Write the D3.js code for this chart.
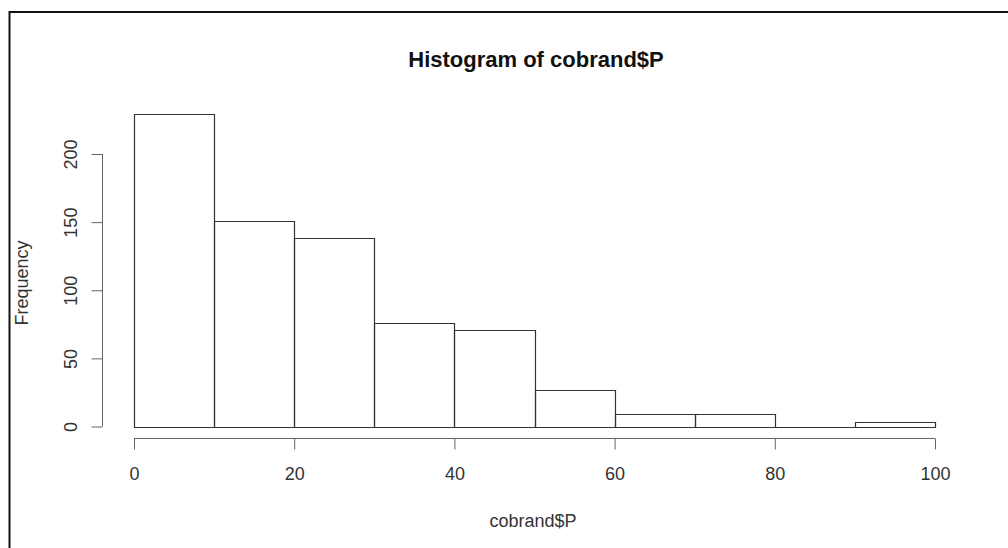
<!DOCTYPE html>
<html>
<head>
<meta charset="utf-8">
<script src="https://cdn.jsdelivr.net/npm/d3@7"></script>
<style>
  body { margin: 0; background: #fff; }
  text { font-family: "Liberation Sans", Arial, sans-serif; }
</style>
</head>
<body>
<div id="chart"></div>
<script>
// histogram bins (left edges) and counts
const binStarts = [0, 10, 20, 30, 40, 50, 60, 70, 80, 90];
const binWidth = 10;
const counts = [229, 151, 138, 76, 71, 27, 9, 9, 0, 3];
const xTicks = [0, 20, 40, 60, 80, 100];
const yTicks = [0, 50, 100, 150, 200];

const W = 1008, H = 548;

const svg = d3.select('#chart')
  .append('svg')
    .attr('width', W)
    .attr('height', H);

// frame (top + left edge of the screenshot)
svg.append('path')
  .attr('d', `M9.5,${H} L9.5,12 L${W},12`)
  .attr('fill', 'none')
  .attr('stroke', '#111')
  .attr('stroke-width', 2);

const x = d3.scaleLinear().domain([0, 100]).range([134, 935]);
const y = d3.scaleLinear().domain([0, 200]).range([426.5, 154]);

// bars as closed paths so an empty bin still shows as a line
svg.append('g')
  .selectAll('path')
  .data(counts)
  .join('path')
    .attr('d', (d, i) => {
      const x0 = Math.round(x(binStarts[i])) + 0.5;
      const x1 = Math.round(x(binStarts[i] + binWidth)) + 0.5;
      const y0 = Math.round(y(0)) + 0.5;
      const y1 = Math.round(y(d)) + 0.5;
      return `M${x0},${y0}V${y1}H${x1}V${y0}Z`;
    })
    .attr('fill', 'none')
    .attr('stroke', '#333')
    .attr('stroke-width', 1.2);

// y axis
svg.append('g')
  .attr('transform', 'translate(102.5,0)')
  .call(d3.axisLeft(y).tickValues(yTicks).tickSize(11).tickSizeOuter(0).tickFormat(d3.format('d')))
  .call(g => g.selectAll('path, line').attr('stroke', '#666'))
  .call(g => g.selectAll('text')
    .attr('fill', '#333')
    .attr('font-size', 18)
    .attr('text-anchor', 'middle')
    .attr('x', 0).attr('dy', 0)
    .attr('transform', 'translate(-32,0) rotate(-90)')
    .attr('dominant-baseline', 'central'))
  .call(g => g.select('.domain').attr('d', `M0,${y(0)}V${y(200)}`));

// x axis
svg.append('g')
  .attr('transform', 'translate(0,438.5)')
  .call(d3.axisBottom(x).tickValues(xTicks).tickSize(11).tickSizeOuter(0).tickFormat(d3.format('d')))
  .call(g => g.selectAll('path, line').attr('stroke', '#666'))
  .call(g => g.select('.domain').attr('d', `M${x(0)},0H${x(100)}`))
  .call(g => g.selectAll('text')
    .attr('fill', '#333')
    .attr('font-size', 18)
    .attr('y', 41).attr('dy', 0));

// titles
svg.append('text')
  .attr('x', 536).attr('y', 67)
  .attr('text-anchor', 'middle')
  .attr('font-size', 22)
  .attr('font-weight', 'bold')
  .attr('fill', '#111')
  .text('Histogram of cobrand$P');

svg.append('text')
  .attr('x', 533).attr('y', 527)
  .attr('text-anchor', 'middle')
  .attr('font-size', 18)
  .attr('fill', '#333')
  .text('cobrand$P');

svg.append('text')
  .attr('transform', 'translate(28,283) rotate(-90)')
  .attr('text-anchor', 'middle')
  .attr('font-size', 18)
  .attr('fill', '#333')
  .text('Frequency');
</script>
</body>
</html>
